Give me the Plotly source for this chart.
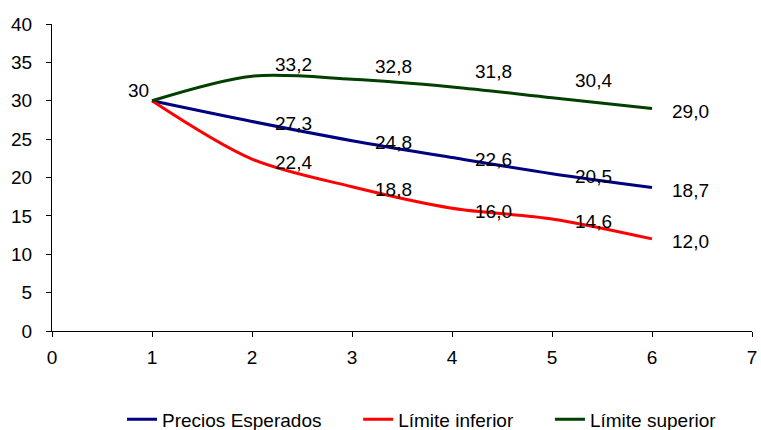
import plotly.graph_objects as go

# Periods and the three price paths
periods = [1, 2, 3, 4, 5, 6]
precios_esperados = [30.0, 27.3, 24.8, 22.6, 20.5, 18.7]
limite_inferior = [30.0, 22.4, 18.8, 16.0, 14.6, 12.0]
limite_superior = [30.0, 33.2, 32.8, 31.8, 30.4, 29.0]

series_names = ["Precios Esperados", "Límite inferior", "Límite superior"]
series_values = [precios_esperados, limite_inferior, limite_superior]
series_colors = ["#000080", "#FF0000", "#013F01"]
# vertical label offsets (px) for periods 2..6; upper band labels sit above the line
label_yshift = [
    [-2, -2, -2, -3, -3],
    [-3, -3, -3, -3, -3],
    [12, 13, 15, 17, -3],
]

FONT = "Liberation Sans, Arial, sans-serif"
# extra spacing after each legend entry
LEGEND_PAD = "&nbsp;" * 6

fig = go.Figure()
for name, vals, color in zip(series_names, series_values, series_colors):
    fig.add_trace(go.Scatter(
        x=periods, y=vals, name=name + LEGEND_PAD, mode="lines",
        line=dict(color=color, width=3, shape="spline", smoothing=0.9),
    ))


def fmt(v):
    return f"{v:.1f}".replace(".", ",")


annotations = []
# shared starting value
annotations.append(dict(
    x=periods[0], y=precios_esperados[0], text=f"{precios_esperados[0]:.0f}",
    showarrow=False, xshift=-14, yshift=10,
    font=dict(family=FONT, size=19, color="black"),
))
for vals, shifts in zip(series_values, label_yshift):
    for i in range(1, len(periods)):
        annotations.append(dict(
            x=periods[i], y=vals[i], text=fmt(vals[i]), showarrow=False,
            xshift=41 if i < len(periods) - 1 else 38, yshift=shifts[i - 1],
            font=dict(family=FONT, size=19, color="black"),
        ))

axis_common = dict(
    showgrid=False, zeroline=False, showline=True, linecolor="black",
    linewidth=1, ticks="outside", ticklen=5, tickcolor="black",
    tickfont=dict(family=FONT, size=19, color="black"),
)

fig.update_layout(
    width=761, height=430,
    margin=dict(l=52, r=9, t=24, b=99, autoexpand=False),
    paper_bgcolor="white", plot_bgcolor="white",
    xaxis=dict(range=[0, 7], dtick=1, ticklabelstandoff=4, **axis_common),
    yaxis=dict(range=[0, 40], dtick=5, ticklabelstandoff=10, **axis_common),
    annotations=annotations,
    showlegend=True,
    legend=dict(
        orientation="h", x=0.1, xanchor="left", y=-0.226, yanchor="top",
        font=dict(family=FONT, size=19, color="black"),
        itemwidth=30,
    ),
)

fig.write_html("out.html")
